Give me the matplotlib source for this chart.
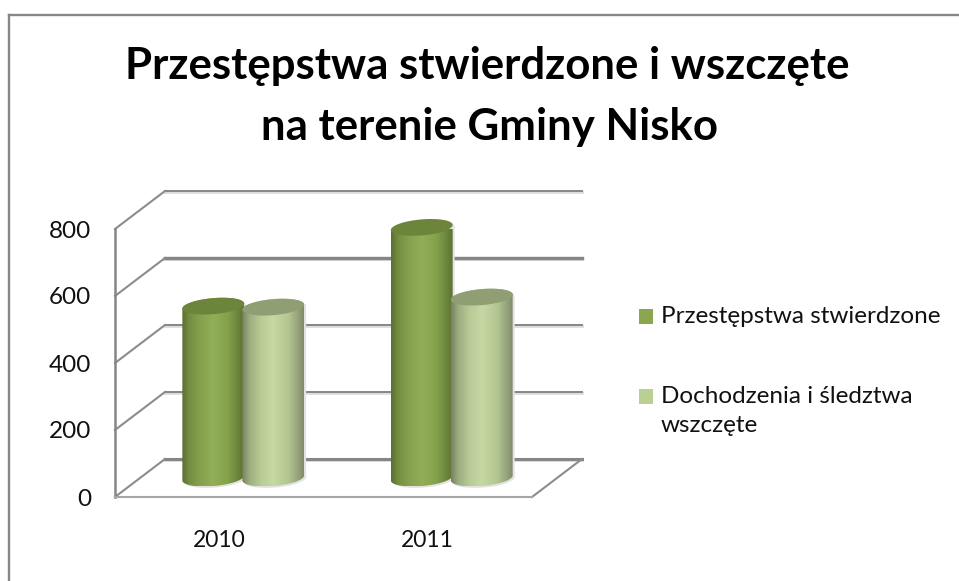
import numpy as np
import matplotlib
matplotlib.use("Agg")
import matplotlib.pyplot as plt
from matplotlib.colors import LinearSegmentedColormap
from matplotlib.lines import Line2D
from matplotlib.patches import Polygon, Rectangle

W, H = 959, 581

# Data
categories = ["2010", "2011"]
series_names = ["Przestępstwa stwierdzone", "Dochodzenia i śledztwa\nwszczęte"]
stwierdzone = [513, 748]
wszczete = [510, 540]
y_ticks = [0, 200, 400, 600, 800]
title = "Przestępstwa stwierdzone i wszczęte\nna terenie Gminy Nisko"

plt.rcParams["font.family"] = ["Lato", "DejaVu Sans"]
GRAY = "#868686"

fig = plt.figure(figsize=(W / 100, H / 100), dpi=100, facecolor="white")


def fx(px):
    return px / W


def fy(py):
    return 1 - py / H


# Plot area, front plane of the 3D box
left, right, top, bottom = 115, 532, 229, 497
ax = fig.add_axes([fx(left), fy(bottom), (right - left) / W, (bottom - top) / H])
ax.set_xlim(-0.5, 1.5)
ax.set_ylim(0, 800)
ax.patch.set_alpha(0)
px_x = (right - left) / 2
px_y = (bottom - top) / 800

# Depth of the box
depth_x = 50 / px_x
depth_y = 38 / px_y

# Back wall gridlines
grid_lw = [2.2, 1.4, 1.4, 2.4, 1.4]
for tick, lw in zip(y_ticks, grid_lw):
    y = tick + depth_y
    ax.plot([-0.5 + depth_x, 1.5 + depth_x], [y - 4, y - 4], color="#dddddd", lw=lw + 0.6, clip_on=False, zorder=1)
    ax.plot([-0.5 + depth_x, 1.5 + depth_x], [y, y], color=GRAY, lw=lw, clip_on=False, zorder=2)
    ax.plot([-0.5, -0.5 + depth_x], [tick, y], color="#8c8c8c", lw=1.5, clip_on=False, zorder=2)
ax.plot([1.5, 1.5 + depth_x], [0, depth_y], color="#8c8c8c", lw=1.5, clip_on=False, zorder=2)


def ellipse(cx, cy, n=120):
    # tilted ellipse, sizes in pixels, result in data units
    a, b, tilt = 31, 8, np.deg2rad(5)
    t = np.linspace(0, 2 * np.pi, n, endpoint=False)
    xp = a * np.cos(t) * np.cos(tilt) - b * np.sin(t) * np.sin(tilt)
    yp = a * np.cos(t) * np.sin(tilt) + b * np.sin(t) * np.cos(tilt)
    return cx + xp / px_x, cy + yp / px_y


def body_outline(cx, val):
    # top half of the cap joined to the lower half of the base
    xt, yt = ellipse(cx, val + depth_y / 2)
    xb, yb = ellipse(cx, depth_y / 2)
    il, ir = np.argmin(xt), np.argmax(xt)
    upper = np.arange(ir, il + 1) if ir < il else np.r_[ir:len(xt), 0:il + 1]
    lower = np.r_[il:len(xt), 0:ir + 1] if il > ir else np.arange(il, ir + 1)
    xs = np.r_[xt[upper], xb[lower]]
    ys = np.r_[yt[upper], yb[lower]]
    return np.column_stack([xs, ys])


def cylinder(cx, val, cmap, cap_color, zorder):
    outline = body_outline(cx, val)
    shadow = Polygon(outline + [2 / px_x, -1.5 / px_y], closed=True, fc="#e2e2e2", ec="none", clip_on=False, zorder=zorder)
    ax.add_patch(shadow)
    poly = Polygon(outline, closed=True, fc="none", ec="none", clip_on=False, zorder=zorder + 0.1)
    ax.add_patch(poly)
    grad = np.linspace(0, 1, 256).reshape(1, -1)
    im = ax.imshow(grad, cmap=cmap, aspect="auto", zorder=zorder + 0.1,
                   extent=[outline[:, 0].min(), outline[:, 0].max(), outline[:, 1].min(), outline[:, 1].max()])
    im.set_clip_path(poly)
    xc, yc = ellipse(cx, val + depth_y / 2)
    ax.add_patch(Polygon(np.column_stack([xc, yc]), closed=True, fc=cap_color, ec="none", clip_on=False, zorder=zorder + 0.2))


dark = LinearSegmentedColormap.from_list("dark", [(0, "#5a6f30"), (0.12, "#758f43"), (0.3, "#87a24e"), (0.5, "#93ae58"),
                                                   (0.75, "#82a04a"), (0.92, "#69813a"), (1, "#5c7231")])
light = LinearSegmentedColormap.from_list("light", [(0, "#76825f"), (0.12, "#9dae80"), (0.3, "#b8cb96"), (0.5, "#c6d9a3"),
                                                     (0.75, "#b3c692"), (0.92, "#939f78"), (1, "#7f8b69")])

bar_w = 60 / px_x
for i, (v1, v2) in enumerate(zip(stwierdzone, wszczete)):
    cx = i + depth_x / 2 - 1 / px_x
    cylinder(cx - bar_w / 2, v1, dark, "#6d853b", 3 + i)
    cylinder(cx + bar_w / 2, v2, light, "#8f9f73", 3.5 + i)

ax.set_xlim(-0.5, 1.5)
ax.set_ylim(0, 800)

# Axes
for side in ["top", "right"]:
    ax.spines[side].set_visible(False)
ax.spines["left"].set_color(GRAY)
ax.spines["left"].set_linewidth(1.8)
ax.spines["bottom"].set_color("#a6a6a6")
ax.spines["bottom"].set_linewidth(1.5)
ax.set_xticks(range(len(categories)))
ax.set_xticklabels(categories)
ax.set_yticks(y_ticks)
ax.tick_params(axis="x", length=0, pad=24, labelsize=16.5, labelcolor="#111111")
ax.tick_params(axis="y", length=0, pad=17, labelsize=17.5, labelcolor="#111111")

# Chart frame, only top and left edges show
fig.add_artist(Line2D([fx(8.5), fx(8.5)], [fy(14.5), 0], color=GRAY, lw=1.7))
fig.add_artist(Line2D([fx(8.5), 1], [fy(14.5), fy(14.5)], color=GRAY, lw=1.7))

fig.text(fx(487), fy(66), title.split("\n")[0], ha="center", va="center", fontsize=31.5, fontweight="bold", color="black")
fig.text(fx(489), fy(127), title.split("\n")[1], ha="center", va="center", fontsize=31.5, fontweight="bold", color="black")

# Legend drawn by hand because of the wrapped entry
legend_colors = ["#8aa64f", "#b9cf93"]
legend_y = [316, 396]
for name, color, ly in zip(series_names, legend_colors, legend_y):
    fig.add_artist(Rectangle((fx(639), fy(ly + 7.5)), 14 / W, 15 / H, transform=fig.transFigure, fc=color, ec="none"))
    fig.text(fx(661), fy(ly - 10), name, ha="left", va="top", fontsize=17.5, color="#111111", linespacing=1.5)

fig.savefig("out.png", dpi=100, facecolor="white")
